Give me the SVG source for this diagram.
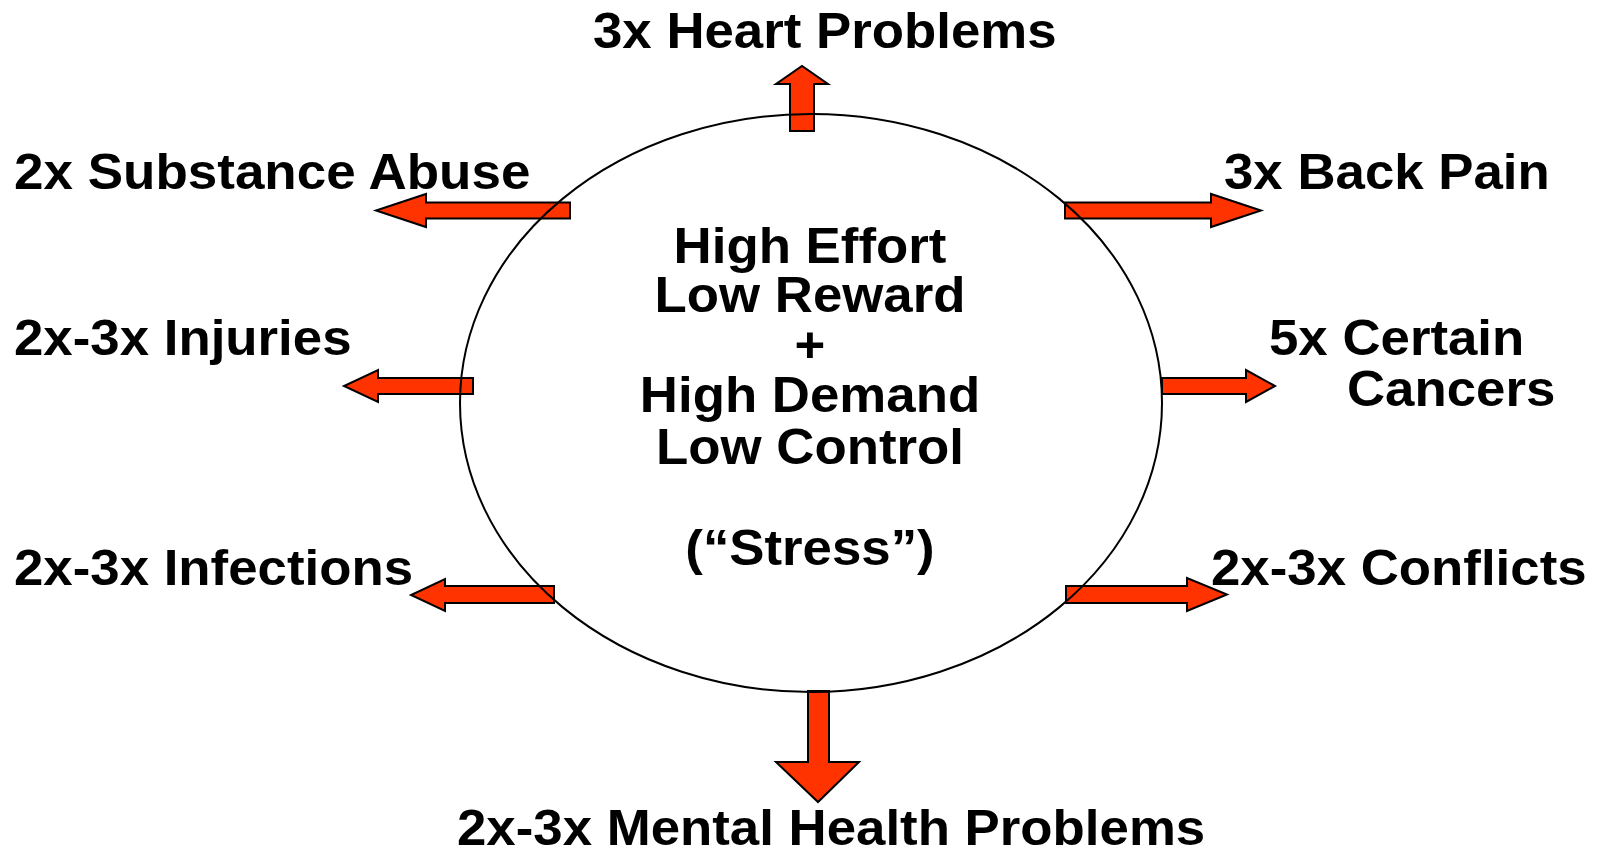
<svg xmlns="http://www.w3.org/2000/svg" width="1602" height="851" viewBox="0 0 1602 851">
<style>
.t{font-family:"Liberation Sans",Arial,sans-serif;font-weight:bold;font-size:50px;fill:#000}
.c{text-anchor:middle}
.a{fill:#FF3300;stroke:#000;stroke-width:2;stroke-linejoin:miter}
</style>
<rect width="1602" height="851" fill="#fff"/>
<g id="connectors">
<path class="a" d="M790,131 L790,84 L776,84 L802,66 L828,84 L814,84 L814,131 Z"/>
<path class="a" d="M570,202.5 L426,202.5 L426,194 L376,210.5 L426,227 L426,218.5 L570,218.5 Z"/>
<path class="a" d="M1065,202.5 L1211,202.5 L1211,194 L1261,210.5 L1211,227 L1211,218.5 L1065,218.5 Z"/>
<path class="a" d="M473,378 L378,378 L378,370 L344,386 L378,402 L378,394 L473,394 Z"/>
<path class="a" d="M1162,378 L1246,378 L1246,370 L1275,386 L1246,402 L1246,394 L1162,394 Z"/>
<path class="a" d="M554,586 L445,586 L445,579 L411,595 L445,611 L445,603 L554,603 Z"/>
<path class="a" d="M1066,586 L1187,586 L1187,578 L1227,594.5 L1187,611 L1187,603 L1066,603 Z"/>
<path class="a" d="M808,691 L829,691 L829,762 L859,762 L818,802 L776,762 L808,762 Z"/>
</g>
<g id="center">
<ellipse cx="811" cy="403" rx="351" ry="289" fill="none" stroke="#000" stroke-width="2"/>
<text class="t c" x="810" y="263" textLength="272.8" lengthAdjust="spacingAndGlyphs">High Effort</text>
<text class="t c" x="810" y="312" textLength="311" lengthAdjust="spacingAndGlyphs">Low Reward</text>
<text class="t c" x="810" y="362" textLength="30.8" lengthAdjust="spacingAndGlyphs">+</text>
<text class="t c" x="810" y="412" textLength="340.3" lengthAdjust="spacingAndGlyphs">High Demand</text>
<text class="t c" x="810" y="464" textLength="308" lengthAdjust="spacingAndGlyphs">Low Control</text>
<text class="t c" x="810" y="565" textLength="249.4" lengthAdjust="spacingAndGlyphs">(“Stress”)</text>
</g>
<g id="heart"><text class="t" x="593" y="48" textLength="463.6" lengthAdjust="spacingAndGlyphs">3x Heart Problems</text></g>
<g id="substance"><text class="t" x="14" y="189" textLength="516.4" lengthAdjust="spacingAndGlyphs">2x Substance Abuse</text></g>
<g id="back"><text class="t" x="1224" y="189" textLength="325.8" lengthAdjust="spacingAndGlyphs">3x Back Pain</text></g>
<g id="injuries"><text class="t" x="14" y="355" textLength="337.5" lengthAdjust="spacingAndGlyphs">2x-3x Injuries</text></g>
<g id="cancers"><text class="t" x="1269" y="355" textLength="255.3" lengthAdjust="spacingAndGlyphs">5x Certain</text><text class="t" x="1347" y="406" textLength="208.3" lengthAdjust="spacingAndGlyphs">Cancers</text></g>
<g id="infections"><text class="t" x="14" y="585" textLength="399" lengthAdjust="spacingAndGlyphs">2x-3x Infections</text></g>
<g id="conflicts"><text class="t" x="1211" y="585" textLength="375.6" lengthAdjust="spacingAndGlyphs">2x-3x Conflicts</text></g>
<g id="mental"><text class="t" x="457" y="845" textLength="748.2" lengthAdjust="spacingAndGlyphs">2x-3x Mental Health Problems</text></g>
</svg>
